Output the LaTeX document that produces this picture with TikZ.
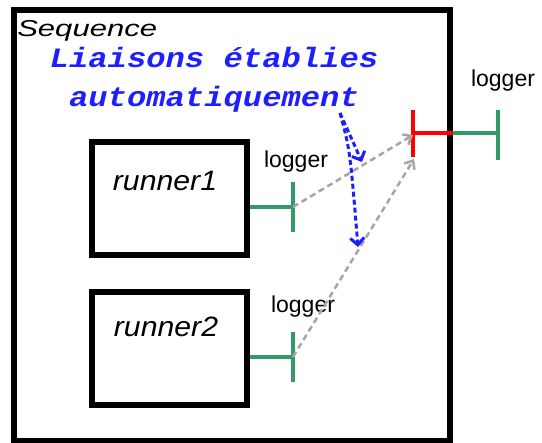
\documentclass[tikz,border=0pt]{standalone}
\usepackage{fontspec}
\setmainfont{Liberation Sans}
\newfontfamily\notefont{Liberation Mono}
\usetikzlibrary{arrows.meta}
\definecolor{portgreen}{RGB}{51,153,102}
\definecolor{notblue}{RGB}{30,30,255}
\definecolor{linkgray}{RGB}{166,166,166}
\tikzset{
  box/.style={draw,line width=6pt,minimum width=#1,inner sep=0pt},
  port/.style={draw=portgreen,line width=4pt},
  link/.style={linkgray,line width=2.5pt,dash pattern=on 6pt off 4pt,-{Straight Barb[length=7pt,width=12pt]}},
  auto/.style={notblue,line width=3pt,dash pattern=on 5pt off 3pt,-{Straight Barb[length=7pt,width=14pt]}},
  lbl/.style={inner sep=0pt,anchor=base,font=\fontsize{23}{26}\selectfont}
}
\begin{document}
\begin{tikzpicture}[x=1pt,y=-1pt]
\useasboundingbox (0,0) rectangle (542,443);
% boxes
\node[box=436pt,minimum height=431pt] (seq) at (232,225.5) {};
\node[box=155pt,minimum height=113.5pt] (r1box) at (169,198.3) {};
\node[box=155pt,minimum height=113.5pt] (r2box) at (169,348.3) {};
\node[lbl,anchor=base west,xscale=1.35,font=\fontsize{23}{26}\selectfont\itshape] (seqtxt) at (17,37) {Sequence};
\node[lbl,xscale=1.08,font=\fontsize{28}{32}\selectfont\itshape] (r1) at (165,191) {runner1};
\node[lbl,xscale=1.08,font=\fontsize{28}{32}\selectfont\itshape] (r2) at (166,337) {runner2};
% note
\node[lbl,xscale=1.15,text=notblue,font=\fontsize{28}{30}\notefont\bfseries\itshape] (note1) at (214,68) {Liaisons établies};
\node[lbl,xscale=1.15,text=notblue,font=\fontsize{28}{30}\notefont\bfseries\itshape] (note2) at (214,107) {automatiquement};
% ports
\coordinate (p1) at (293,207);
\coordinate (p2) at (293,357);
\coordinate (pin) at (413,133);
\coordinate (pout) at (498,133);
\draw[port] (r1box.east |- p1) -- (p1);
\draw[port] (p1) ++(0,-25) -- ++(0,50);
\draw[port] (r2box.east |- p2) -- (p2);
\draw[port] (p2) ++(0,-25) -- ++(0,50);
\draw[red,line width=4pt] (pin) -- (seq.east |- pin);
\draw[red,line width=4pt] (pin) ++(0,-23) -- ++(0,47);
\draw[port] (seq.east |- pin) -- (pout);
\draw[port] (pout) ++(0,-23) -- ++(0,50);
\node[lbl] (log1) at (296,168) {logger};
\node[lbl] (log2) at (303,313) {logger};
\node[lbl] (log3) at (503,87) {logger};
% links
\coordinate (t1) at (413,135);
\coordinate (t2) at (414,159);
\draw[link] (p1) -- (t1);
\draw[link] (p2) -- (t2);
\coordinate (b0) at (340,113);
\coordinate (b1) at (362,162);
\coordinate (b2) at (358,247);
\draw[auto] (b0) -- (b1);
\draw[auto] (b0) .. controls (350,150) .. (b2);
\end{tikzpicture}
\end{document}
